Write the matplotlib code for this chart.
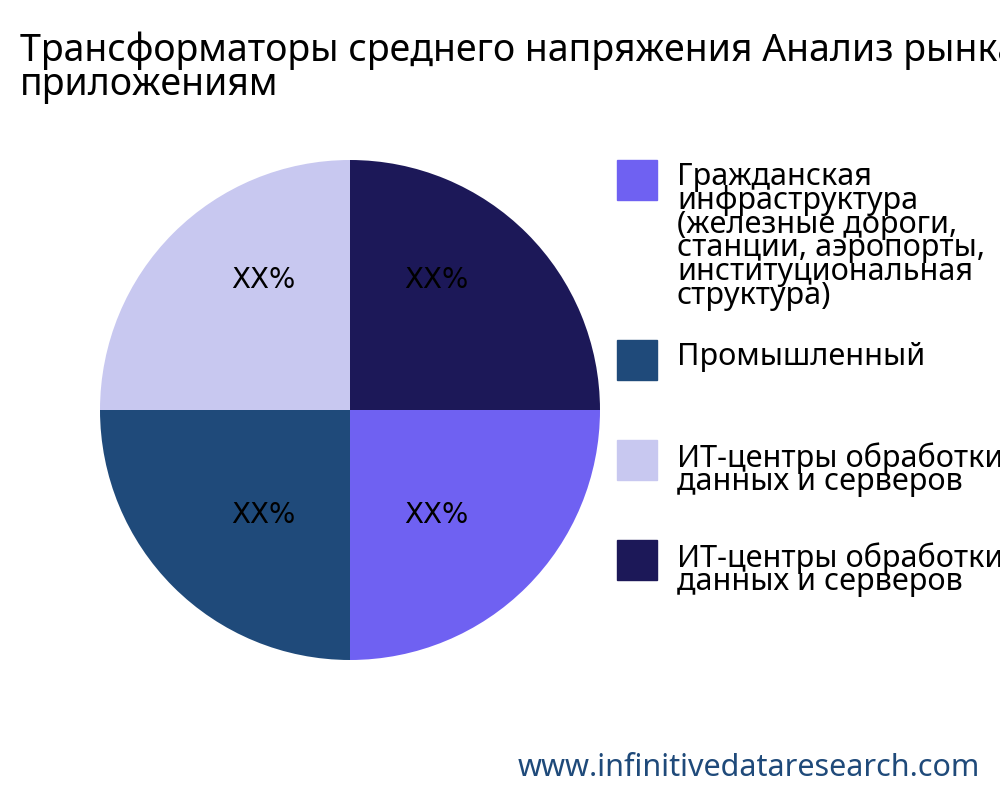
import matplotlib
matplotlib.use("Agg")
import matplotlib.pyplot as plt
from matplotlib.patches import Rectangle
import numpy as np

plt.rcParams['font.family'] = ['Noto Sans', 'DejaVu Sans']

categories = ["Гражданская\nинфраструктура\n(железные дороги,\nстанции, аэропорты,\nинституциональная\nструктура)",
              "Промышленный",
              "ИТ-центры обработки\nданных и серверов",
              "ИТ-центры обработки\nданных и серверов"]
values = [25, 25, 25, 25]
labels = ["XX%", "XX%", "XX%", "XX%"]
colors = ["#6F61F2", "#1F4A7A", "#C8C8F0", "#1C1858"]

fig = plt.figure(figsize=(10, 8), dpi=100)
ax = fig.add_axes([0.1, 0.175, 0.5, 0.625])
wedges, _ = ax.pie(values, colors=colors, startangle=0, counterclock=False)
ax.set_xlim(-1, 1)
ax.set_ylim(-1, 1)
ax.set_aspect('equal')
for w, lab in zip(wedges, labels):
    th = np.deg2rad((w.theta1 + w.theta2) / 2)
    sy = np.sign(np.sin(th))
    ax.text(0.345 * np.sign(np.cos(th)), 0.52 if sy > 0 else -0.42,
            lab, ha='center', va='center', fontsize=20, family='DejaVu Sans')

fig.text(0.02, 0.915, "Трансформаторы среднего напряжения Анализ рынка по\nприложениям",
         fontsize=27, va='center', ha='left', linespacing=0.85)

box_tops = [160, 340, 440, 540]
for c, lab, yt in zip(colors, categories, box_tops):
    fig.patches.append(Rectangle((617 / 1000, 1 - (yt + 40) / 800), 0.04, 0.05,
                                 transform=fig.transFigure, color=c))
    fig.text(677 / 1000, 1 - (yt + 2) / 800, lab, ha='left', va='top',
             fontsize=22, linespacing=0.72)

fig.text(0.98, 0.04, "www.infinitivedataresearch.com", ha='right', va='center',
         fontsize=22, color="#1F4A7A")
fig.savefig("out.png")
